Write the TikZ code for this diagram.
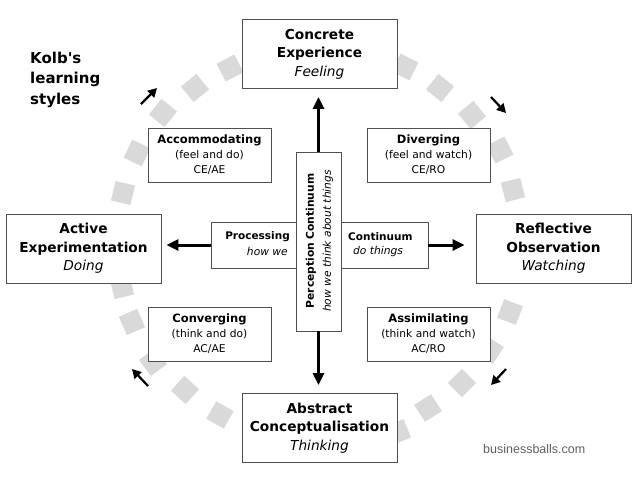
\documentclass[tikz,border=0pt]{standalone}
\usepackage{fontspec}
\setmainfont{DejaVu Sans}
\newfontfamily\arialfont{Liberation Sans}
\usetikzlibrary{arrows.meta}
\definecolor{sqgray}{HTML}{D9D9D9}
\definecolor{boxline}{HTML}{505050}
\definecolor{credit}{HTML}{606060}
\begin{document}
\begin{tikzpicture}[x=1pt,y=-1pt,
  bigbox/.style={draw=boxline, line width=0.9pt, fill=white, minimum width=155pt, minimum height=69pt, align=center, inner sep=0pt, font=\fontsize{13.7}{18.5}\selectfont},
  smallbox/.style={draw=boxline, line width=0.8pt, fill=white, minimum width=123pt, minimum height=54pt, align=center, inner sep=0pt, font=\fontsize{10.7}{15}\selectfont},
  plainbox/.style={draw=boxline, line width=0.8pt, fill=white, inner sep=0pt},
  sq/.style={fill=sqgray, minimum size=20pt, inner sep=0pt},
  bigarrow/.style={line width=3pt, -{Triangle[length=12pt,width=11pt]}},
  cycarrow/.style={line width=2.2pt, -{Triangle[length=9pt,width=9.5pt]}},
  lbl/.style={inner sep=0pt, font=\fontsize{10.7}{15}\selectfont},
]
\useasboundingbox (0,0) rectangle (640,482);
\fill[white] (0,0) rectangle (640,482);
% cycle of grey squares
\foreach \x/\y/\a [count=\i] in {123/193/-166.6, 137/153/-154.6, 163/113/-141, 195/88/-129.4, 230/68/-117.6,
  405/67/-63.8, 440/88/-51.7, 472/115/-39.4, 500/150/-26.6, 513/190/-14.5,
  510/312/20.8, 490/350/32.9, 462/383/45.2, 428/408/57.3, 398/432/67.9,
  220/415/119.7, 185/390/132, 153/362/143.9, 132/322/156.4, 122/287/166.6}
  \node[sq, rotate=-\a] (s\i) at (\x,\y) {};
% four main boxes
\node[bigbox] (ce) at (319.5,54) {\textbf{Concrete}\\\textbf{Experience}\\\textit{Feeling}};
\node[bigbox] (ae) at (83.5,248.5) {\textbf{Active}\\\textbf{Experimentation}\\\textit{Doing}};
\node[bigbox] (ro) at (553.5,248.5) {\textbf{Reflective}\\\textbf{Observation}\\\textit{Watching}};
\node[bigbox] (ac) at (319.5,428) {\textbf{Abstract}\\\textbf{Conceptualisation}\\\textit{Thinking}};
% four style boxes
\node[smallbox] (acc) at (209.5,155) {{\fontsize{11.5}{15}\selectfont\bfseries Accommodating}\\(feel and do)\\CE/AE};
\node[smallbox] (div) at (428.5,155) {{\fontsize{11.5}{15}\selectfont\bfseries Diverging}\\(feel and watch)\\CE/RO};
\node[smallbox] (con) at (209.5,334) {{\fontsize{11.5}{15}\selectfont\bfseries Converging}\\(think and do)\\AC/AE};
\node[smallbox] (ass) at (428.5,334) {{\fontsize{11.5}{15}\selectfont\bfseries Assimilating}\\(think and watch)\\AC/RO};
% central cross
\node[plainbox, minimum width=217pt, minimum height=46pt] (hb) at (319.5,245) {};
\node[plainbox, minimum width=45pt, minimum height=179pt] (pc) at (318.5,241.5) {};
\node[lbl, anchor=east, font=\fontsize{10.5}{15}\selectfont\bfseries] (proc) at (290,237) {Processing};
\node[lbl, anchor=east, font=\fontsize{10.7}{15}\selectfont\itshape] (howwe) at (288,252) {how we};
\node[lbl, anchor=west, font=\fontsize{10.5}{15}\selectfont\bfseries] (cont) at (348,237) {Continuum};
\node[lbl, anchor=west, font=\fontsize{10.7}{15}\selectfont\itshape] (dothings) at (353,252) {do things};
\node[lbl, rotate=90, align=center, font=\fontsize{10.7}{17}\selectfont] (perc) at (319.5,241)
  {\textbf{Perception Continuum}\\\textit{how we think about things}};
% main arrows
\draw[bigarrow, shorten >=8pt] (pc.north) -- (pc.north |- ce.south);
\draw[bigarrow, shorten >=8pt] (pc.south) -- (pc.south |- ac.north);
\draw[bigarrow, shorten >=5pt] (hb.west) -- (hb.west -| ae.east);
\draw[bigarrow, shorten >=11pt] (hb.east) -- (hb.east -| ro.west);
% cycle arrows
\coordinate (tl1) at (141,104); \coordinate (tl2) at (157,88);
\coordinate (tr1) at (491,97);  \coordinate (tr2) at (506,113);
\coordinate (br1) at (506,369); \coordinate (br2) at (491,385);
\coordinate (bl1) at (148,386); \coordinate (bl2) at (132,369);
\draw[cycarrow] (tl1) -- (tl2);
\draw[cycarrow] (tr1) -- (tr2);
\draw[cycarrow] (br1) -- (br2);
\draw[cycarrow] (bl1) -- (bl2);
% title and credit
\node[inner sep=0pt, anchor=north west, align=left, font=\fontsize{15}{20.5}\selectfont\bfseries] (title) at (30,51.5) {Kolb\textquotesingle s\\learning\\styles};
\node[inner sep=0pt, anchor=base west, text=credit, font=\arialfont\fontsize{12.5}{15}\selectfont] (credit) at (483,453) {businessballs.com};
\end{tikzpicture}
\end{document}
